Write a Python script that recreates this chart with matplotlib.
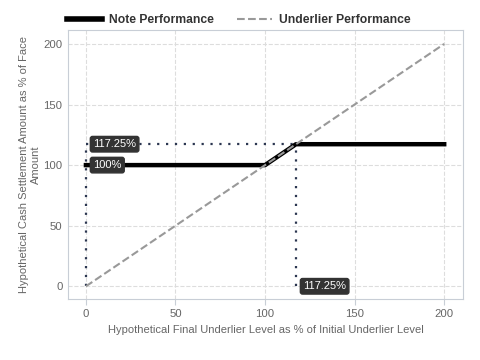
import matplotlib.pyplot as plt

plt.rcParams['font.family'] = ['Liberation Sans', 'DejaVu Sans']

# Payoff data
note_x = [0, 100, 117.25, 200]
note_y = [100, 100, 117.25, 117.25]
under_x = [0, 200]
under_y = [0, 200]
cap_level = 117.25
floor_level = 100

xticks = [0, 50, 100, 150, 200]
yticks = [0, 50, 100, 150, 200]

fig = plt.figure(figsize=(4.8, 3.6), dpi=100)
ax = fig.add_axes([0.1417, 0.1694, 0.8229, 0.7473])

grey = '#666666'
spine_c = '#c8ced6'

# Reference dotted lines
dot_c = '#2b3650'
dots = (0, (1, 3))
ax.plot([0, cap_level], [cap_level, cap_level], ls=dots, color=dot_c, lw=1.6, zorder=2)
ax.plot([cap_level, cap_level], [0, cap_level], ls=dots, color=dot_c, lw=1.6, zorder=2)
ax.plot([0, 0], [0, cap_level], ls=dots, color=dot_c, lw=1.6, zorder=2)

ax.plot(note_x, note_y, color='black', lw=3.2, label='Note Performance', zorder=3)
ax.plot(under_x, under_y, '--', color='#999999', lw=1.5, label='Underlier Performance', zorder=4)

box = dict(boxstyle='round,pad=0.25,rounding_size=0.2', fc='#333333', ec='#333333')
ax.text(4, cap_level, '117.25%', color='white', fontsize=8, va='center', ha='left', bbox=box, zorder=5)
ax.text(4, floor_level, '100%', color='white', fontsize=8, va='center', ha='left', bbox=box, zorder=5)
ax.text(cap_level + 4, 0, '117.25%', color='white', fontsize=8, va='center', ha='left', bbox=box, zorder=5)

ax.set_xlim(-10, 210.5)
ax.set_ylim(-10.5, 211.5)
ax.set_xticks(xticks)
ax.set_yticks(yticks)
ax.grid(True, ls='--', color='#dddddd', lw=0.8)
ax.set_axisbelow(True)
for s in ax.spines.values():
    s.set_color(spine_c)
ax.tick_params(axis='x', colors=spine_c, labelcolor=grey, labelsize=8.2, length=4)
ax.tick_params(axis='y', length=0, labelcolor=grey, labelsize=8.2, pad=4)

ax.set_xlabel('Hypothetical Final Underlier Level as % of Initial Underlier Level', color=grey, fontsize=8)
ax.set_ylabel('Hypothetical Cash Settlement Amount as % of Face\nAmount', color=grey, fontsize=8,
              linespacing=1.25)
ax.yaxis.set_label_coords(-0.068, 0.5)

leg = ax.legend(loc='lower left', bbox_to_anchor=(-0.02, 0.99), ncol=2, frameon=False,
                prop={'weight': 'bold', 'size': 8.7}, handlelength=2.9, handletextpad=0.6,
                columnspacing=1.9, borderaxespad=0.15)
leg.get_lines()[0].set_linewidth(4)
for t in leg.get_texts():
    t.set_color('#333333')

fig.savefig('out.png', dpi=100)
